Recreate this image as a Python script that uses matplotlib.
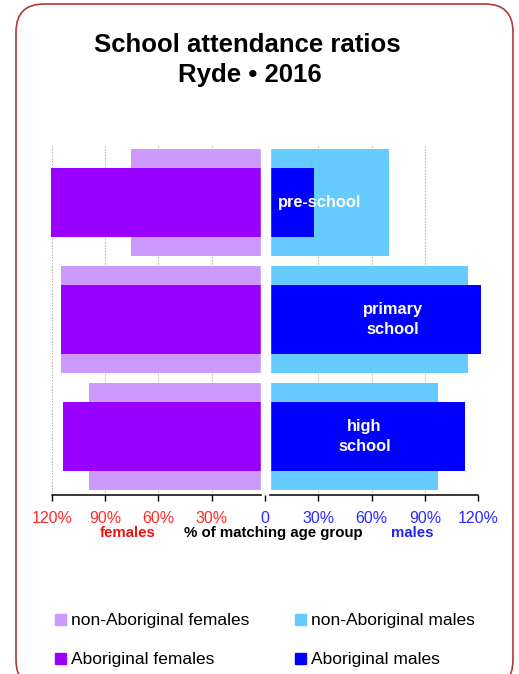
import matplotlib
matplotlib.use('Agg')
import matplotlib.pyplot as plt
from matplotlib.patches import FancyBboxPatch, Rectangle
from matplotlib.transforms import IdentityTransform
from matplotlib import font_manager

# ---- data ----
categories = ['pre-school', 'primary\nschool', 'high\nschool']
non_ab_females = [75.5, 114.8, 99.2]
ab_females = [120.4, 114.8, 113.6]
non_ab_males = [69.8, 114.0, 97.5]
ab_males = [27.4, 121.5, 112.5]
tick_values = [-120, -90, -60, -30, 0, 30, 60, 90, 120]
tick_labels = ['120%', '90%', '60%', '30%', '0', '30%', '60%', '90%', '120%']
label_x = [31, 72, 56]
legend_labels = ['non-Aboriginal females', 'non-Aboriginal males',
                 'Aboriginal females', 'Aboriginal males']

C_NAF = '#cc99ff'
C_AF = '#9900ff'
C_NAM = '#66ccff'
C_AM = '#0000ff'

names = {f.name for f in font_manager.fontManager.ttflist}
NARROW = 'Liberation Sans Narrow' if 'Liberation Sans Narrow' in names else 'Liberation Sans'
SANS = 'Liberation Sans'

W, H = 519, 674
fig = plt.figure(figsize=(W / 100, H / 100), dpi=100)

def fx(px):
    return px / W

def fy(py):
    return 1 - py / H

ax = fig.add_axes([fx(51.7), fy(495), (478.3 - 51.7) / W, (495 - 144) / H])
ax.set_xlim(-120, 120)
ax.set_ylim(2.5, -0.5)
ypos = list(range(len(categories)))

ax.barh(ypos, [-v for v in non_ab_females], height=0.909, color=C_NAF, zorder=2, clip_on=False)
ax.barh(ypos, [-v for v in ab_females], height=0.59, color=C_AF, zorder=2.1, clip_on=False)
ax.barh(ypos, non_ab_males, height=0.909, color=C_NAM, zorder=2, clip_on=False)
ax.barh(ypos, ab_males, height=0.59, color=C_AM, zorder=2.1, clip_on=False)
ax.axvspan(-2.25, 2.8, color='white', zorder=3)

for v in tick_values:
    if v != 0:
        ax.axvline(v, color='#aaaaaa', ls=(0, (1.2, 1.5)), lw=0.8, zorder=1)

for s in ax.spines.values():
    s.set_visible(False)
ax.plot([-120, -2.25], [2.5, 2.5], color='black', lw=1.1, clip_on=False, zorder=4)
ax.plot([2.8, 120], [2.5, 2.5], color='black', lw=1.1, clip_on=False, zorder=4)

ax.set_yticks([])
ax.set_xticks(tick_values, tick_labels)
ax.tick_params(axis='x', length=4, width=1, pad=7.5, labelsize=11.5, color='black')
for lab, v in zip(ax.get_xticklabels(), tick_values):
    lab.set_color('#ff2a2a' if v < 0 else '#2a2aff')
    lab.set_family(NARROW)

for i, c in enumerate(categories):
    ax.text(label_x[i], ypos[i], c, color='white', fontweight='bold', ha='center',
            va='center', fontsize=11.8, family=NARROW, linespacing=1.35, zorder=5)

# axis captions
fig.text(fx(127.5), fy(537), 'females', color='#ee1111', fontweight='bold',
         fontsize=10.8, family=SANS, ha='center', va='baseline')
fig.text(fx(273.8), fy(537), '% of matching age group', color='black', fontweight='bold',
         fontsize=10.8, family=SANS, ha='center', va='baseline')
fig.text(fx(411.8), fy(537), 'males', color='#2222ee', fontweight='bold',
         fontsize=10.8, family=SANS, ha='center', va='baseline')

# title
fig.text(fx(247), fy(52), 'School attendance ratios', fontweight='bold', fontsize=18.5,
         family=SANS, ha='center', va='baseline')
fig.text(fx(250), fy(82), 'Ryde \u2022 2016', fontweight='bold', fontsize=18.5,
         family=SANS, ha='center', va='baseline')

# legend
leg_pos = [(55, 625), (295, 625), (55, 664), (295, 664)]
leg_cols = [C_NAF, C_NAM, C_AF, C_AM]
for (lx, ly), col, lab in zip(leg_pos, leg_cols, legend_labels):
    fig.add_artist(Rectangle((fx(lx), fy(ly)), 10.7 / W, 10.7 / H, color=col,
                             transform=fig.transFigure))
    fig.text(fx(lx + 16), fy(ly), lab, fontsize=12.5, family=SANS, ha='left',
             va='baseline', color='black')

# border
border = FancyBboxPatch((16, H - 688), 497, 684, boxstyle='round,pad=0,rounding_size=28',
                        transform=IdentityTransform(), facecolor='none',
                        edgecolor='#b03a3a', lw=1.2)
fig.add_artist(border)

fig.savefig('out.png', dpi=100)
